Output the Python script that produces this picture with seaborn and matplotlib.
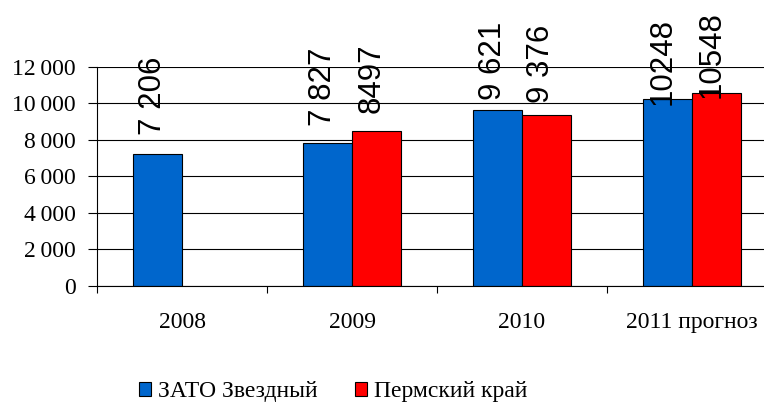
import pandas as pd
import matplotlib.pyplot as plt
import matplotlib.ticker as mticker
import seaborn as sns

# --- data ---
years = ['2008', '2009', '2010', '2011 прогноз']
series_names = ['ЗАТО Звездный', 'Пермский край']
zato_values = [7206, 7827, 9621, 10248]
perm_values = [None, 8497, 9376, 10548]
zato_labels = ['7 206', '7 827', '9 621', '10248']
perm_labels = [None, '8497', '9 376', '10548']
ytick_values = [0, 2000, 4000, 6000, 8000, 10000, 12000]

df = pd.DataFrame({
    'Год': years * 2,
    'Серия': [series_names[0]] * 4 + [series_names[1]] * 4,
    'Значение': zato_values + perm_values,
})
label_map = {series_names[0]: zato_labels, series_names[1]: perm_labels}

# --- style ---
sns.set_style('white')
plt.rcParams['font.family'] = ['Liberation Serif', 'DejaVu Serif']
plt.rcParams['text.color'] = 'black'
plt.rcParams['xtick.color'] = 'black'
plt.rcParams['ytick.color'] = 'black'
plt.rcParams['xtick.labelcolor'] = 'black'
plt.rcParams['ytick.labelcolor'] = 'black'
colors = ['#0066CC', '#FF0000']

fig = plt.figure(figsize=(7.64, 4.07), dpi=100)
ax = fig.add_axes([97 / 764, 121 / 407, 680 / 764, 219.3 / 407])

sns.barplot(
    data=df, x='Год', y='Значение', hue='Серия',
    order=years, hue_order=series_names, palette=colors, saturation=1,
    width=0.576, gap=0, edgecolor='black', linewidth=0.8,
    errorbar=None, legend=True, ax=ax,
)

ax.set_xlim(-0.5, 3.5)
ax.set_ylim(0, 12000)
ax.set_xlabel('')
ax.set_ylabel('')

# y axis
ax.set_yticks(ytick_values)
ax.yaxis.set_major_formatter(mticker.FuncFormatter(lambda v, p: f'{int(v):,}'.replace(',', '\u2009')))
ax.yaxis.grid(True, color='black', linewidth=0.8)
ax.set_axisbelow(True)
ax.tick_params(axis='y', left=True, length=6.5, width=0.8, pad=9, labelsize=17, color='black')

# x axis: tick marks between groups, labels at group centres
ax.set_xticks([-0.5, 0.5, 1.5, 2.5, 3.5])
ax.set_xticklabels([])
ax.set_xticks(range(len(years)), minor=True)
ax.set_xticklabels(years, minor=True)
ax.tick_params(axis='x', which='major', bottom=True, length=5, width=0.8, color='black')
ax.tick_params(axis='x', which='minor', bottom=True, length=0, pad=19, labelsize=17)

for side in ['top', 'right']:
    ax.spines[side].set_visible(False)
for side in ['left', 'bottom']:
    ax.spines[side].set_color('black')
    ax.spines[side].set_linewidth(0.8)

# value labels, rotated (pixel offsets from bar top, as in the original)
label_pad = {series_names[0]: [19, 17, 10, -6], series_names[1]: [None, 18, 12, -5]}
for container, name in zip(ax.containers, series_names):
    for bar in container:
        h = bar.get_height()
        if h is None or pd.isna(h) or h == 0:
            continue
        xc = bar.get_x() + bar.get_width() / 2
        i = int(round(xc))
        ax.annotate(
            label_map[name][i], (xc, h),
            xytext=(-5, label_pad[name][i]), textcoords='offset pixels',
            rotation=90, ha='center', va='bottom', color='black',
            fontsize=22.5, family=['Liberation Sans', 'DejaVu Sans'],
            annotation_clip=False,
        )

# legend at the bottom
handles, labels = ax.get_legend_handles_labels()
ax.get_legend().remove()
fig.legend(
    handles, labels, loc='center', bbox_to_anchor=(333 / 764, 1 - 392 / 407),
    ncol=2, frameon=False, fontsize=17, handlelength=0.5, handleheight=0.5,
    handletextpad=0.3, columnspacing=1.6, labelcolor='black',
)

fig.savefig('out.png', dpi=100)
